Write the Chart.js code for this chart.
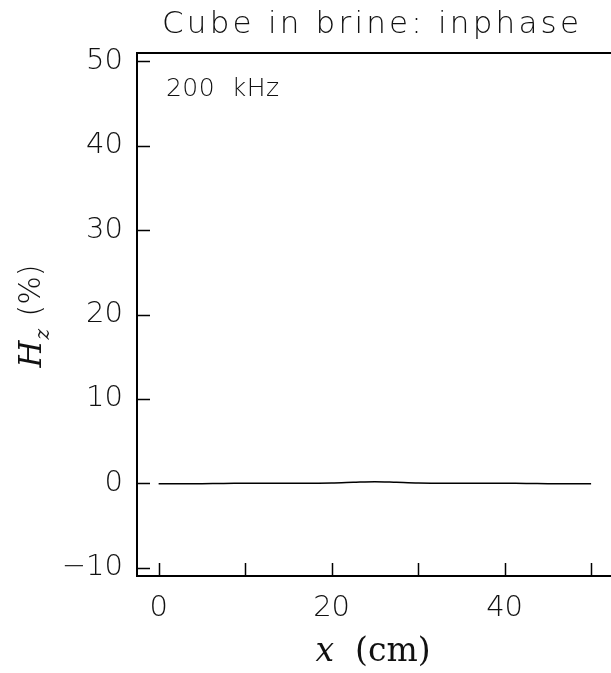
<!DOCTYPE html>
<html>
<head>
<meta charset="utf-8">
<script src="https://cdn.jsdelivr.net/npm/chart.js@4.4.1/dist/chart.umd.min.js"></script>
<style>
  html, body { margin: 0; padding: 0; background: #fff; overflow: hidden; }
  #wrap { width: 611px; height: 673px; position: relative; }
</style>
</head>
<body>
<div id="wrap"><canvas id="hzChart"></canvas></div>
<script>
// profile along x (cm) and inphase Hz (%)
const xPos = [0, 2.5, 5, 7.5, 10, 12.5, 15, 17.5, 20, 22.5, 25, 27.5, 30, 32.5, 35, 37.5, 40, 42.5, 45, 47.5, 50];
const hzInphase = [-0.05, -0.05, -0.05, -0.03, 0, 0, 0, 0, 0.02, 0.1, 0.18, 0.1, 0.02, 0, 0, 0, 0, -0.03, -0.05, -0.05, -0.05];
const xTickLabels = { 0: '0', 20: '20', 40: '40' };
const yTickLabels = { '-10': '\u221210', 0: '0', 10: '10', 20: '20', 30: '30', 40: '40', 50: '50' };

const chartTitle = 'Cube in brine: inphase';
const freqLabel = '200  kHz';

const thinFont = '"DejaVu Sans", sans-serif';
const serifFont = '"DejaVu Serif", serif';

// spread a string's letters so it spans [x0, x1]
function spreadText(ctx, text, x0, x1, y) {
  const chars = text.split('');
  const widths = chars.map(c => ctx.measureText(c).width);
  const total = widths.reduce((s, w) => s + w, 0);
  const gap = (x1 - x0 - total) / (chars.length - 1);
  let x = x0;
  chars.forEach((c, i) => { ctx.fillText(c, x, y); x += widths[i] + gap; });
}

// frame, inward ticks and the mixed-font labels
const framePlugin = {
  id: 'frame',
  afterDraw(chart) {
    const { ctx, chartArea: a } = chart;
    const xs = chart.scales.x, ys = chart.scales.y;
    ctx.save();
    ctx.strokeStyle = '#000';
    ctx.lineWidth = 2;
    ctx.beginPath();
    ctx.moveTo(a.right + 2, a.top);
    ctx.lineTo(a.left, a.top);
    ctx.lineTo(a.left, a.bottom);
    ctx.lineTo(a.right + 2, a.bottom);
    ctx.stroke();

    ctx.lineWidth = 1.5;
    ctx.beginPath();
    xs.ticks.forEach(t => {
      const px = Math.round(xs.getPixelForValue(t.value)) + 0.5;
      ctx.moveTo(px, a.bottom);
      ctx.lineTo(px, a.bottom - 13);
    });
    ys.ticks.forEach(t => {
      const py = Math.round(ys.getPixelForValue(t.value)) + 0.5;
      ctx.moveTo(a.left, py);
      ctx.lineTo(a.left + 13, py);
    });
    ctx.stroke();

    ctx.fillStyle = '#111';
    ctx.textBaseline = 'alphabetic';
    ctx.textAlign = 'left';
    ctx.font = '200 25px ' + thinFont;
    spreadText(ctx, freqLabel, 166, 279, 96);

    ctx.font = '200 31px ' + thinFont;
    spreadText(ctx, chartTitle, 162, 579, 33);

    // x axis title: x (cm)
    ctx.font = 'italic 33px ' + serifFont;
    const xw = ctx.measureText('x').width;
    ctx.font = '33px ' + serifFont;
    const cw = ctx.measureText('  (cm)').width;
    const sx = 373 - (xw + cw) / 2;
    ctx.font = 'italic 33px ' + serifFont;
    ctx.fillText('x', sx, 661);
    ctx.font = '33px ' + serifFont;
    ctx.fillText('  (cm)', sx + xw, 661);

    // y axis title: Hz (%)
    ctx.translate(41, 318);
    ctx.rotate(-Math.PI / 2);
    ctx.font = 'italic 31px ' + serifFont;
    const hw = ctx.measureText('H').width;
    ctx.font = 'italic 20px ' + serifFont;
    const zw = ctx.measureText('z').width;
    ctx.font = '200 30px ' + thinFont;
    const pw = ctx.measureText(' (%)').width;
    const ty = -(hw + zw + pw) / 2;
    ctx.font = 'italic 31px ' + serifFont;
    ctx.fillText('H', ty, 0);
    ctx.font = 'italic 20px ' + serifFont;
    ctx.fillText('z', ty + hw + 1, 8);
    ctx.font = '200 30px ' + thinFont;
    ctx.fillText(' (%)', ty + hw + zw + 4, -1);
    ctx.restore();
  }
};

new Chart(document.getElementById('hzChart'), {
  type: 'scatter',
  data: {
    datasets: [{
      data: xPos.map((x, i) => ({ x, y: hzInphase[i] })),
      showLine: true,
      borderColor: '#000',
      borderWidth: 1.5,
      pointRadius: 0,
      tension: 0.3
    }]
  },
  options: {
    responsive: true,
    maintainAspectRatio: false,
    animation: false,
    layout: { padding: { top: 53, right: 0, left: 0, bottom: 0 } },
    plugins: { legend: { display: false }, tooltip: { enabled: false } },
    scales: {
      x: {
        type: 'linear',
        min: -2.5,
        max: 52.3,
        grid: { display: false, drawTicks: false },
        border: { display: false },
        afterFit: s => { s.height = 97; },
        ticks: {
          stepSize: 10,
          includeBounds: false,
          autoSkip: false,
          maxRotation: 0,
          padding: 15,
          color: '#111',
          font: { family: thinFont, size: 29, weight: '200' },
          callback: v => xTickLabels[v] ?? ''
        }
      },
      y: {
        min: -11,
        max: 51,
        grid: { display: false, drawTicks: false },
        border: { display: false },
        afterFit: s => { s.width = 137; },
        ticks: {
          stepSize: 10,
          includeBounds: false,
          padding: 14,
          color: '#111',
          font: { family: thinFont, size: 29, weight: '200' },
          callback: v => yTickLabels[v] ?? ''
        }
      }
    }
  },
  plugins: [framePlugin]
});
</script>
</body>
</html>
